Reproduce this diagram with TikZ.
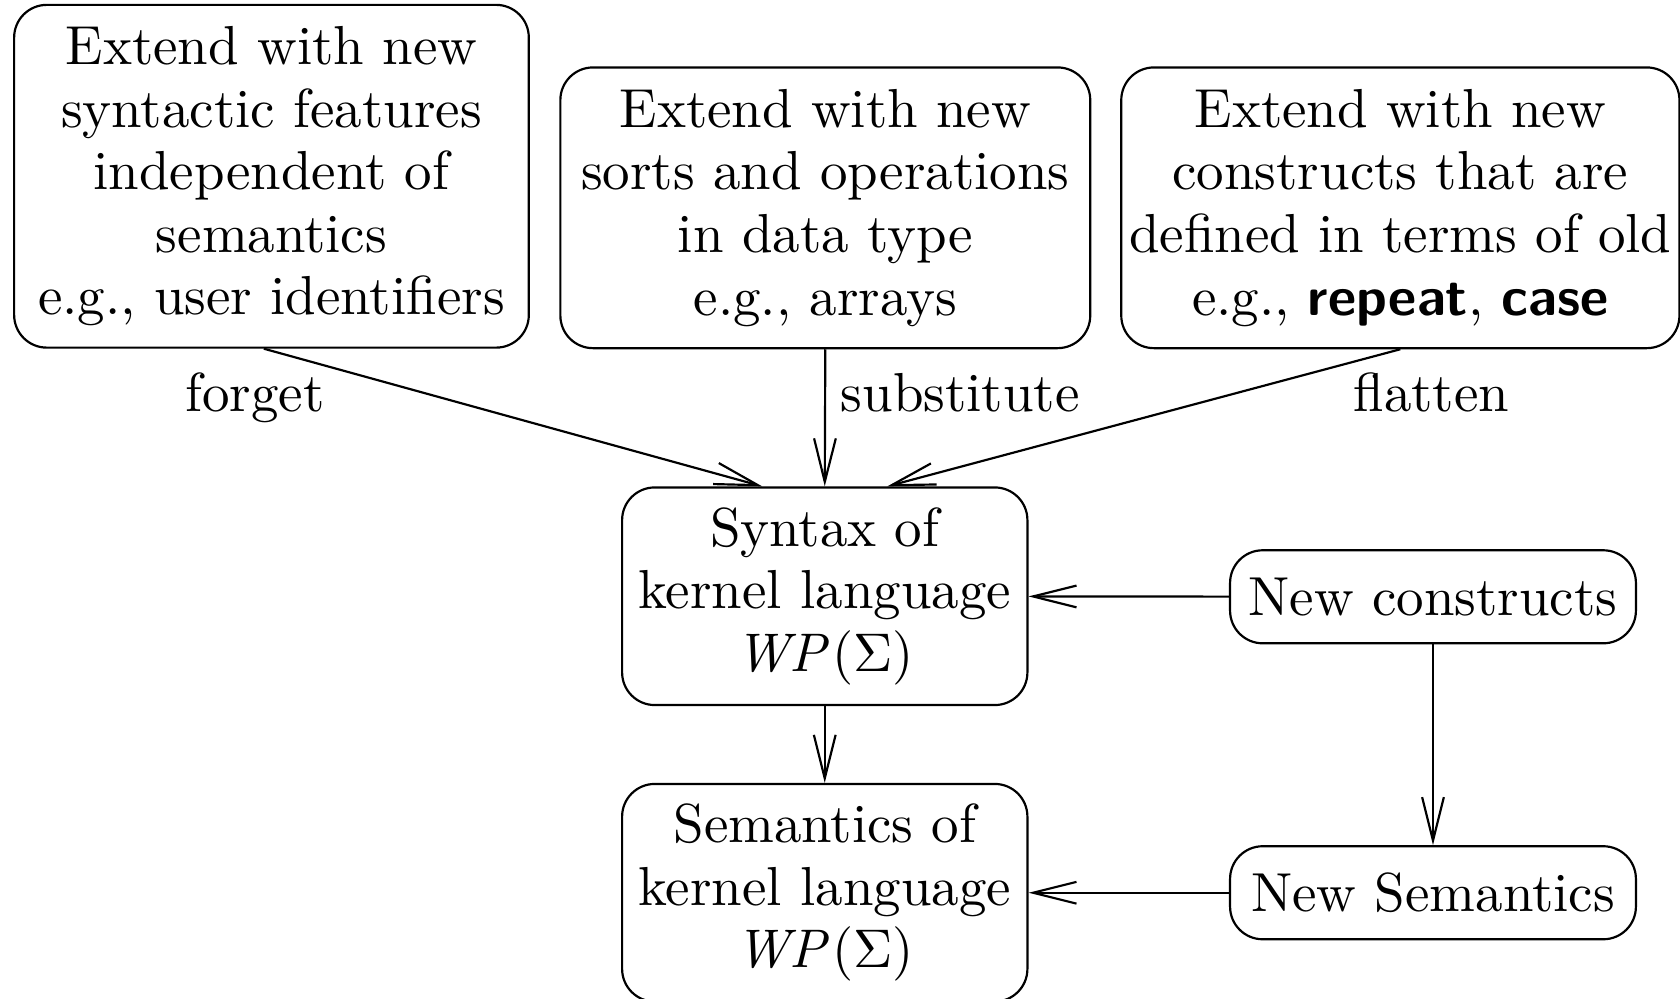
\documentclass[tikz,border=0pt]{standalone}
\usepackage{amsmath, amssymb}
\usepackage{tikz}
\usetikzlibrary{arrows.meta}

\tikzset{
  box/.style={draw, rounded corners=6pt, align=center, inner sep=2pt},
  >={Straight Barb[length=8pt,width=4pt]},
}

\begin{document}
\begin{tikzpicture}[font=\fontsize{10.1pt}{11.5pt}\selectfont]
  \useasboundingbox (0,0) rectangle (308.8pt,-183.6pt);

  % ways of extending the language
  \node[box, minimum width=94.6pt, minimum height=63pt] (feat) at (49.9pt,-32.4pt)
    {Extend with new\\ syntactic features\\ independent of\\ semantics\\ e.g., user identifiers};
  \node[box, minimum width=97.4pt, minimum height=51.6pt] (sorts) at (151.7pt,-38.2pt)
    {Extend with new\\ sorts and operations\\ in data type\\ e.g., arrays};
  \node[box, inner xsep=1pt, minimum width=102.6pt, minimum height=51.6pt] (cons) at (257.4pt,-38.2pt)
    {Extend with new\\ constructs that are\\ defined in terms of old\\ e.g., \textsf{\textbf{repeat}}, \textsf{\textbf{case}}};

  % kernel language
  \node[box, minimum width=74.5pt, minimum height=40pt] (syn) at (151.6pt,-109.6pt)
    {Syntax of\\ kernel language\\ $\mathit{WP}(\Sigma)$};
  \node[box, minimum width=74.5pt, minimum height=40pt] (sem) at (151.6pt,-164.1pt)
    {Semantics of\\ kernel language\\ $\mathit{WP}(\Sigma)$};

  \node[box, minimum width=74.6pt, minimum height=17.1pt] (newc) at (263.4pt,-109.7pt) {New constructs};
  \node[box, minimum width=74.6pt, minimum height=17.1pt] (news) at (263.4pt,-164.1pt) {New Semantics};

  \draw[->] ([xshift=-1.4pt]feat.south) -- ([xshift=-11.5pt]syn.north);
  \draw[->] (sorts.south) -- (syn.north);
  \draw[->] (cons.south)  -- ([xshift=11.5pt]syn.north);
  \draw[->] (syn) -- (sem);
  \draw[->] (newc) -- (syn);
  \draw[->] (newc) -- (news);
  \draw[->] (news) -- (sem);

  \node (forget) at (46.9pt,-73.2pt) {forget};
  \node (subst)  at (176.5pt,-72.2pt) {substitute};
  \node (flat)   at (263.1pt,-72.2pt) {flatten};
\end{tikzpicture}
\end{document}
